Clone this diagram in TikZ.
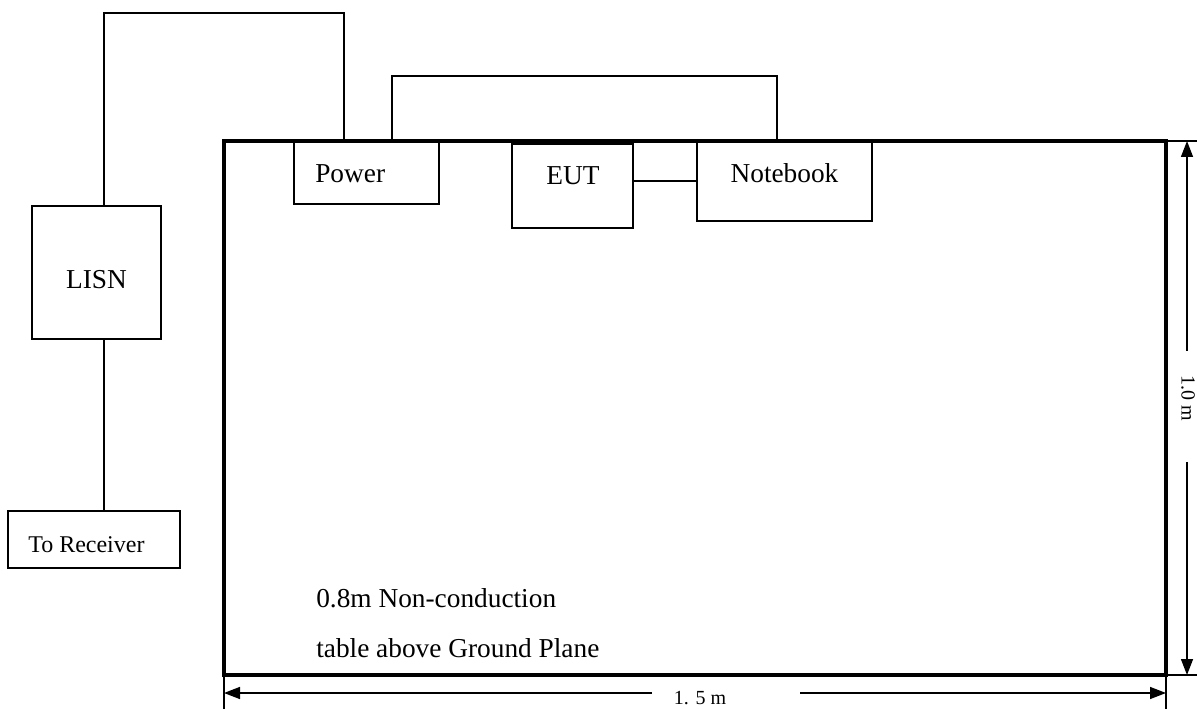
\documentclass[tikz,border=0pt]{standalone}
\usepackage{fontspec}
\setmainfont{Liberation Serif}
\usetikzlibrary{arrows.meta}
\begin{document}
\begin{tikzpicture}[x=.75pt,y=-.75pt,line join=miter]
  \tikzset{unit/.style={draw,line width=1.3pt,inner sep=0pt,outer sep=0pt},
    wire/.style={line width=1.3pt},
    dimline/.style={line width=1.1pt,-{Triangle[length=12pt,width=9pt]}},
    extline/.style={line width=.8pt},
    lbl/.style={inner sep=0pt,font=\fontsize{20.5}{24}\selectfont},
    dimlbl/.style={inner sep=0pt,font=\fontsize{15}{17}\selectfont}}
  \useasboundingbox (0,0) rectangle (1197,709);
  \node[draw,line width=2.4pt,inner sep=0pt,outer sep=0pt,minimum width=706.5pt,minimum height=400.5pt] (table) at (695,408) {};
  \node[unit,minimum width=108.75pt,minimum height=46.5pt] (power) at (366.5,173) {};
  \node[unit,minimum width=90.75pt,minimum height=63pt] (eut) at (572.5,186) {};
  \node[unit,minimum width=131.25pt,minimum height=60pt] (notebook) at (784.5,181) {};
  \node[unit,minimum width=96.75pt,minimum height=99.75pt] (lisn) at (96.5,272.5) {};
  \node[unit,minimum width=129pt,minimum height=42.75pt] (receiver) at (94,539.5) {};
  \node[lbl,anchor=base west] (powertext) at (315,183) {Power};
  \node[lbl,anchor=base] (euttext) at (573,185) {EUT};
  \node[lbl,anchor=base] (notebooktext) at (784.5,183) {Notebook};
  \node[lbl,anchor=base] (lisntext) at (96.5,289) {LISN};
  \node[lbl,anchor=base west,font=\fontsize{18}{20}\selectfont] (receivertext) at (28,552) {To Receiver};
  \node[lbl,anchor=base west] (tabletext1) at (316,607) {0.8m Non-conduction};
  \node[lbl,anchor=base west] (tabletext2) at (316,657) {table above Ground Plane};
  \coordinate (w1) at (104,13); \coordinate (w2) at (344,13);
  \coordinate (w3) at (392,76); \coordinate (w4) at (777,76);
  \draw[wire] (w1 |- lisn.north)--(w1)--(w2)--(w2 |- power.north);
  \draw[wire] (w3 |- power.north)--(w3)--(w4)--(w4 |- notebook.north);
  \draw[wire] (eut.east |- notebook.west)--(notebook.west);
  \draw[wire] (w1 |- lisn.south)--(w1 |- receiver.north);
  \coordinate (hgapl) at (652,693); \coordinate (hgapr) at (800,693);
  \coordinate (vgapt) at (1187,351); \coordinate (vgapb) at (1187,462);
  \draw[dimline] (hgapl)--(hgapl -| table.west); \draw[dimline] (hgapr)--(hgapr -| table.east);
  \draw[dimline] (vgapt)--(vgapt |- table.north); \draw[dimline] (vgapb)--(vgapb |- table.south);
  \node[dimlbl] (widthlbl) at (700,698) {1. 5 m};
  \node[dimlbl,rotate=-90] (heightlbl) at (1188,398) {1.0 m};
  \draw[extline] (table.south west)--(table.south west |- 0,709); \draw[extline] (table.south east)--(table.south east |- 0,709);
  \draw[extline] (table.north east)--(1197,0 |- table.north east); \draw[extline] (table.south east)--(1197,0 |- table.south east);
\end{tikzpicture}
\end{document}
